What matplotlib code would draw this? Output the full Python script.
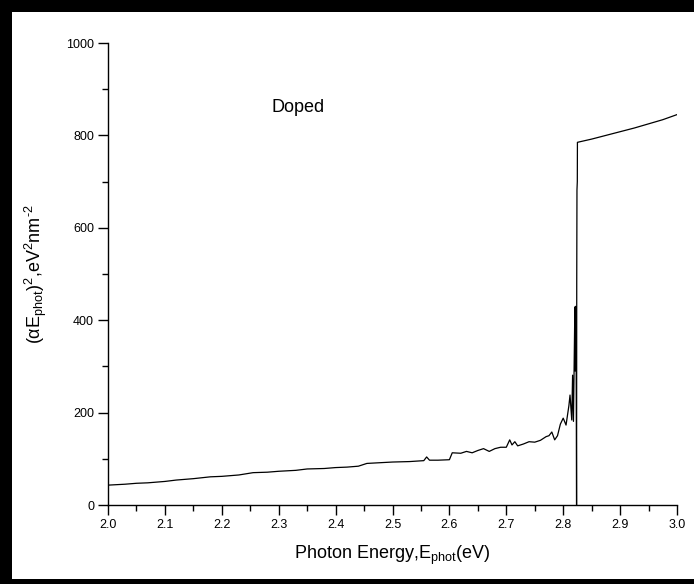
import matplotlib
matplotlib.use('Agg')
import matplotlib.pyplot as plt
from matplotlib.patches import Rectangle

plt.rcParams['font.family'] = ['Liberation Sans', 'DejaVu Sans']
plt.rcParams['mathtext.fontset'] = 'custom'
plt.rcParams['mathtext.rm'] = 'Liberation Sans'
plt.rcParams['mathtext.it'] = 'Liberation Sans'
plt.rcParams['mathtext.default'] = 'regular'

# photon energy [eV] and (alpha*E)^2
energy = [2.00, 2.03, 2.05, 2.07, 2.10, 2.12, 2.15, 2.18, 2.20, 2.23, 2.255,
          2.28, 2.30, 2.33, 2.35, 2.38, 2.40, 2.42, 2.44, 2.455, 2.47, 2.50,
          2.53, 2.555, 2.56, 2.565, 2.58, 2.60, 2.605, 2.62, 2.63, 2.64,
          2.65, 2.66, 2.67, 2.68, 2.69, 2.70, 2.706, 2.71, 2.715, 2.72,
          2.73, 2.74, 2.75, 2.76, 2.77, 2.775, 2.78, 2.785, 2.79, 2.795,
          2.80, 2.805, 2.81, 2.812, 2.815, 2.8165, 2.818, 2.8205, 2.821,
          2.8215, 2.822, 2.8225, 2.8235, 2.8238, 2.8242, 2.8248, 2.825,
          2.85, 2.875, 2.90, 2.925, 2.95, 2.975, 3.00]
signal = [43, 45, 47, 48, 51, 54, 57, 61, 62, 65, 70,
          71, 73, 75, 78, 79, 81, 82, 84, 90, 91, 93,
          94, 96, 104, 97, 97, 98, 113, 112, 116, 113,
          118, 122, 116, 122, 125, 125, 141, 130, 137, 128,
          132, 137, 136, 140, 148, 150, 158, 141, 150, 175,
          188, 173, 215, 238, 184, 281, 181, 428, 290,
          430, 300, 428, 0, 483, 682, 700, 785,
          792, 800, 808, 816, 825, 834, 845]

fig = plt.figure(figsize=(6.94, 5.84), dpi=100)
ax = fig.add_axes([108/694, 79/584, 569/694, 462/584])

ax.plot(energy, signal, color='black', lw=0.9)

ax.set_xlim(2.0, 3.0)
ax.set_ylim(0, 1000)
ax.set_xticks([2.0 + 0.1*i for i in range(11)])
ax.set_xticklabels([f'{2.0 + 0.1*i:.1f}' for i in range(11)])
ax.set_xticks([2.05 + 0.1*i for i in range(10)], minor=True)
ax.set_yticks(range(0, 1001, 200))
ax.set_yticks(range(100, 1000, 200), minor=True)
ax.tick_params(which='major', direction='out', length=7, width=1, labelsize=9, pad=3)
ax.tick_params(which='minor', direction='out', length=4, width=1)
for s in ['top', 'right']:
    ax.spines[s].set_visible(False)
for s in ['left', 'bottom']:
    ax.spines[s].set_linewidth(1)

ax.set_xlabel(r'Photon Energy,E$_{phot}$(eV)', fontsize=13, labelpad=9)
ax.set_ylabel(r'($\alpha$E$_{phot}$)$^2$,eV$^2$nm$^{\text{-}2}$', fontsize=13, labelpad=12)
ax.text(2.288, 861, 'Doped', fontsize=13, va='center')

# black frame around the picture
for xy, w, h in [((0, 1 - 12/584), 1, 12/584), ((0, 0), 12/694, 1), ((0, 0), 1, 5/584)]:
    fig.add_artist(Rectangle(xy, w, h, transform=fig.transFigure, color='black', lw=0))

fig.savefig('out.png', dpi=100)
